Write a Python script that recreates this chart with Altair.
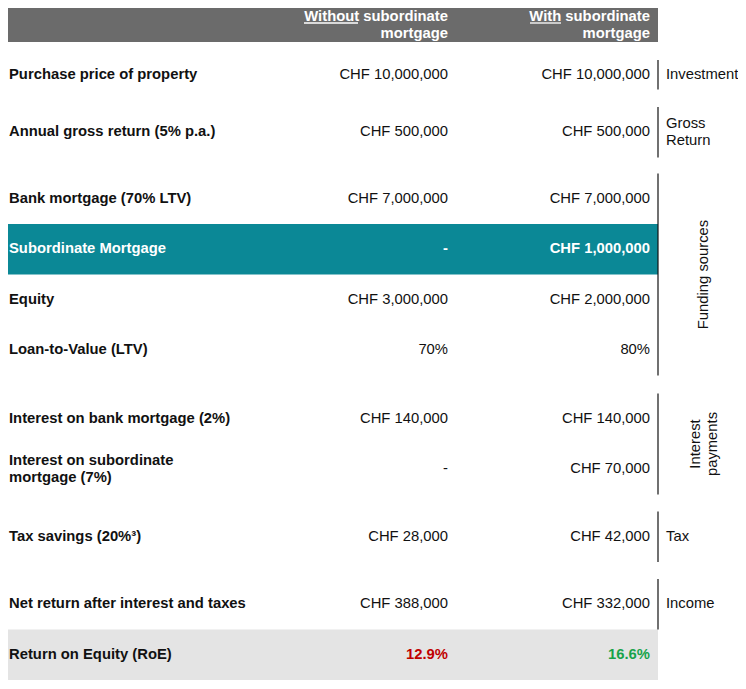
import altair as alt
import pandas as pd

# ---------------- data ----------------
row_labels = [
    "Purchase price of property",
    "Annual gross return (5% p.a.)",
    "Bank mortgage (70% LTV)",
    "Subordinate Mortgage",
    "Equity",
    "Loan-to-Value (LTV)",
    "Interest on bank mortgage (2%)",
    "Interest on subordinate\nmortgage (7%)",
    "Tax savings (20%³)",
    "Net return after interest and taxes",
    "Return on Equity (RoE)",
]
without_values = [
    "CHF 10,000,000", "CHF 500,000", "CHF 7,000,000", "-", "CHF 3,000,000",
    "70%", "CHF 140,000", "-", "CHF 28,000", "CHF 388,000", "12.9%",
]
with_values = [
    "CHF 10,000,000", "CHF 500,000", "CHF 7,000,000", "CHF 1,000,000", "CHF 2,000,000",
    "80%", "CHF 140,000", "CHF 70,000", "CHF 42,000", "CHF 332,000", "16.6%",
]
header_without = "Without subordinate\nmortgage"
header_with = "With subordinate\nmortgage"
group_names = ["Investment", "Gross\nReturn", "Funding sources", "Interest\npayments", "Tax", "Income"]
group_rows = [[0], [1], [2, 3, 4, 5], [6, 7], [8], [9]]
group_rotated = [False, False, True, True, False, False]

# ---------------- layout ----------------
FONT = "Liberation Sans"
FS = 14.8
LH = 17
HEADER_BOTTOM = 42
ROW_H = 50.5
gap_before = [8, 6.5, 16, 0, 0, 0, 18, 0, 17, 17, 0]
TABLE_RIGHT = 658
COL_LABEL_X = 9
COL_WITHOUT_X = 448
COL_WITH_X = 650
HIGHLIGHT_ROW = 3
ROE_ROW = 10

tops = []
cur = HEADER_BOTTOM
for g in gap_before:
    cur += g
    tops.append(cur)
    cur += ROW_H
centers = [t + ROW_H / 2 for t in tops]


def first_line_offset(text):
    """Vega puts the first line at the anchor; shift so the block is centred."""
    n = text.count("\n") + 1
    return -(n - 1) * LH / 2


DARK = "#111111"
HEADER_GREY = "#6b6b6b"
TEAL = "#0b8896"
ROE_GREY = "#e4e4e4"
RED = "#c00000"
GREEN = "#17a34a"

xs = alt.Scale(domain=[8, 738], range=[0, 730])
ys = alt.Scale(domain=[8, 681], range=[0, 673])


def X(f="x"):
    return alt.X(f"{f}:Q", scale=xs, axis=None)


def Y(f="y"):
    return alt.Y(f"{f}:Q", scale=ys, axis=None)


# bands
bands = pd.DataFrame({
    "x": [0, 0, 0],
    "x2": [TABLE_RIGHT] * 3,
    "y": [0, tops[HIGHLIGHT_ROW], tops[ROE_ROW]],
    "y2": [HEADER_BOTTOM, tops[HIGHLIGHT_ROW] + ROW_H, tops[ROE_ROW] + ROW_H],
    "c": [HEADER_GREY, TEAL, ROE_GREY],
})
band_layer = alt.Chart(bands).mark_rect().encode(
    x=X(), x2="x2:Q", y=Y(), y2="y2:Q", color=alt.Color("c:N", scale=None)
)

# header text (centred in the visible part of the header band)
hc = 25
hdr = pd.DataFrame({
    "x": [COL_WITHOUT_X, COL_WITH_X],
    "y": [hc + first_line_offset(header_without), hc + first_line_offset(header_with)],
    "t": [header_without, header_with],
})
hdr_layer = alt.Chart(hdr).mark_text(
    align="right", baseline="middle", font=FONT, fontSize=FS, fontWeight="bold",
    color="white", lineBreak="\n", lineHeight=LH
).encode(x=X(), y=Y(), text="t:N")

ul = pd.DataFrame({"x": [304, 530], "x2": [358, 561], "y": [23, 23]})
ul_layer = alt.Chart(ul).mark_rule(color="white", strokeWidth=1.3).encode(x=X(), x2="x2:Q", y=Y())

# row labels
lab = pd.DataFrame({
    "x": [COL_LABEL_X] * len(row_labels),
    "y": [c + first_line_offset(t) for c, t in zip(centers, row_labels)],
    "t": row_labels,
    "c": ["white" if i == HIGHLIGHT_ROW else DARK for i in range(len(row_labels))],
})
lab_layer = alt.Chart(lab).mark_text(
    align="left", baseline="middle", font=FONT, fontSize=FS, fontWeight="bold",
    lineBreak="\n", lineHeight=LH
).encode(x=X(), y=Y(), text="t:N", color=alt.Color("c:N", scale=None))

# values
reg_rows, bold_rows = [], []
for i in range(len(row_labels)):
    for xpos, v in ((COL_WITHOUT_X, without_values[i]), (COL_WITH_X, with_values[i])):
        if i == HIGHLIGHT_ROW:
            bold_rows.append({"x": xpos, "y": centers[i], "t": v, "c": "white"})
        elif i == ROE_ROW:
            bold_rows.append({"x": xpos, "y": centers[i], "t": v, "c": RED if xpos == COL_WITHOUT_X else GREEN})
        else:
            reg_rows.append({"x": xpos, "y": centers[i], "t": v, "c": DARK})

val_layer = alt.Chart(pd.DataFrame(reg_rows)).mark_text(
    align="right", baseline="middle", font=FONT, fontSize=FS
).encode(x=X(), y=Y(), text="t:N", color=alt.Color("c:N", scale=None))
valb_layer = alt.Chart(pd.DataFrame(bold_rows)).mark_text(
    align="right", baseline="middle", font=FONT, fontSize=FS, fontWeight="bold"
).encode(x=X(), y=Y(), text="t:N", color=alt.Color("c:N", scale=None))

# group brackets
br = []
gh, gv = [], []
for name, rows, rot in zip(group_names, group_rows, group_rotated):
    y0 = tops[rows[0]]
    y1 = tops[rows[-1]] + ROW_H
    if name == "Investment":
        y0, y1 = y0 + 10, y1 - 11
    br.append({"x": TABLE_RIGHT, "y": y0, "y2": y1})
    cy = (tops[rows[0]] + tops[rows[-1]] + ROW_H) / 2
    if rot:
        gv.append({"x": 704 + first_line_offset(name), "y": cy, "t": name})
    else:
        gh.append({"x": 666, "y": cy + first_line_offset(name), "t": name})

br_layer = alt.Chart(pd.DataFrame(br)).mark_rule(color="#111111", strokeWidth=1.2).encode(
    x=X(), y=Y(), y2="y2:Q"
)
gh_layer = alt.Chart(pd.DataFrame(gh)).mark_text(
    align="left", baseline="middle", font=FONT, fontSize=FS, color=DARK,
    lineBreak="\n", lineHeight=LH
).encode(x=X(), y=Y(), text="t:N")
gv_layer = alt.Chart(pd.DataFrame(gv)).mark_text(
    align="center", baseline="middle", font=FONT, fontSize=FS, color=DARK, angle=270,
    lineBreak="\n", lineHeight=LH
).encode(x=X(), y=Y(), text="t:N")

chart = alt.layer(
    band_layer, hdr_layer, ul_layer, lab_layer, val_layer, valb_layer, br_layer, gh_layer, gv_layer
).properties(
    width=730, height=673, autosize=alt.AutoSizeParams(type="none"), padding=0
).configure_view(stroke=None)

chart.save("out.html", embed_options={"renderer": "svg", "actions": False})
